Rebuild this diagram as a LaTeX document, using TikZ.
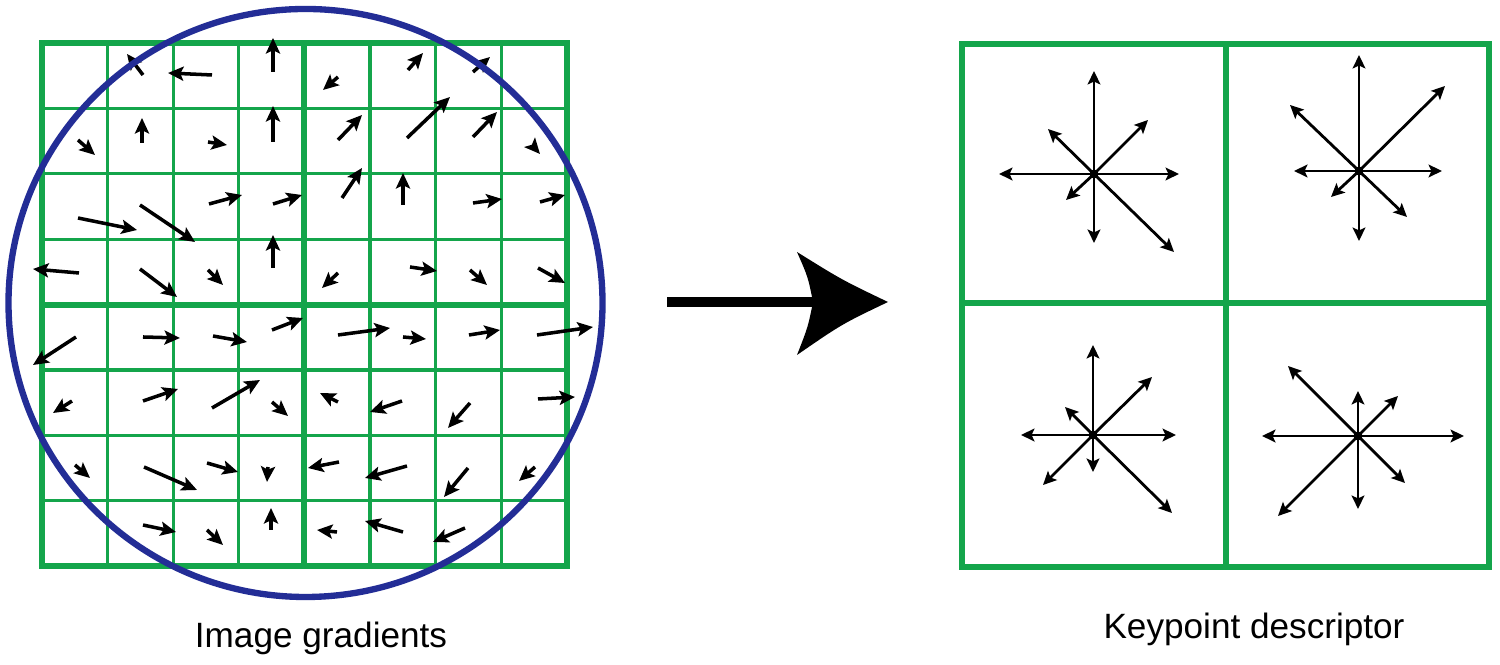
\documentclass[tikz,border=0pt]{standalone}
\usepackage{fontspec}
\setmainfont{Liberation Sans}
\usetikzlibrary{arrows.meta}
\definecolor{gridgreen}{RGB}{20,165,75}
\definecolor{circblue}{RGB}{35,45,150}
\tikzset{
  thingrid/.style={draw=gridgreen, line width=0.9pt},
  thickgrid/.style={draw=gridgreen, line width=1.7pt},
  gradarrow/.style={draw=black, line width=1pt, -{Stealth[length=4.4pt,width=4pt,inset=0.9pt]}},
  stararrow/.style={draw=black, line width=0.8pt, -{Stealth[length=3.8pt,width=3.6pt,inset=0.8pt]}},
  caption/.style={font=\fontsize{10pt}{12pt}\selectfont, anchor=base, inner sep=0pt}
}
\begin{document}
\begin{tikzpicture}[x=0.01cm, y=-0.01cm]
\useasboundingbox (0,0) rectangle (1500,665);
\fill[white] (0,0) rectangle (1500,665);

% ---- left 8x8 grid ----
\foreach \i in {1,2,3,5,6,7} {
  \draw[thingrid] ({42+65.6*\i},43) -- ({42+65.6*\i},566);
  \draw[thingrid] (42,{43+65.4*\i}) -- (567,{43+65.4*\i});
}
\draw[thickgrid] (304.4,43) -- (304.4,566);
\draw[thickgrid] (42,304.6) -- (567,304.6);
\draw[thickgrid] (42,43) rectangle (567,566);

% ---- gradient arrows ----
\foreach \ax/\ay/\bx/\by in {
 143/75/127/54, 212/75/168/73, 273/72/273/38,
 78/140/95/155, 142/143/142/118, 208/142/227/145, 273/142/273/106,
 78/218/137/230, 140/205/195/242, 209/204/242/195, 273/204/302/195,
 79/273/33/269, 140/269/177/297, 208/270/223/285, 273/268/273/235,
 338/77/323/90, 408/70/423/53, 473/72/490/57,
 338/140/362/115, 407/138/450/97, 473/137/497/112, 532/145/540/154,
 342/198/362/168, 403/205/403/173, 473/203/502/199, 540/202/565/195,
 338/273/322/288, 410/267/437/271, 470/270/487/285, 538/268/565/283,
 76/337/33/365, 143/337/180/338, 213/336/247/342, 272/330/303/318,
 72/401/53/413, 143/401/178/389, 212/408/260/380, 272/402/288/416,
 75/465/90/478, 144/467/197/490, 207/463/238/472, 268/467/267/482,
 143/525/176/532, 207/530/223/545, 271/530/271/508,
 338/335/390/328, 403/337/426/339, 469/335/500/330, 537/335/593/327,
 338/402/320/393, 402/401/370/412, 470/403/448/428, 538/399/575/397,
 339/462/308/468, 407/466/365/478, 468/468/444/497, 535/467/519/481,
 337/532/317/530, 403/532/365/521, 465/528/433/542}
{
  \draw[gradarrow] (\ax,\ay) -- (\bx,\by);
}

% ---- blue circle ----
\draw[circblue, line width=1.8pt] (305.5,303) ellipse [x radius=297, y radius=294];

% ---- big arrow ----
\fill[black] (667,297) rectangle (816,307);
\fill[black] (888,302) .. controls (842,280) .. (797,252)
  .. controls (808,277) .. (813,302)
  .. controls (808,327) .. (797,355)
  .. controls (842,324) .. (888,302) -- cycle;

% ---- right 2x2 grid ----
\draw[thickgrid] (1226,44) -- (1226,567);
\draw[thickgrid] (962,303.5) -- (1489,303.5);
\draw[thickgrid] (962,44) rectangle (1489,567);

% ---- stars ----
\coordinate (c1) at (1094,174);
\coordinate (c2) at (1359,171);
\coordinate (c3) at (1093,435);
\coordinate (c4) at (1358,436);

\foreach \c/\u/\nex/\ney/\r/\sex/\sey/\d/\swx/\swy/\l/\nwx/\nwy in {
  c1/103/54/54/85/80/78/69/28/26/95/46/45,
  c2/116/86/85/83/48/46/70/28/26/65/69/66,
  c3/90/59/58/83/79/78/37/50/50/72/28/28,
  c4/45/40/40/106/47/47/73/80/80/96/70/70}
{
  \draw[stararrow] (\c) -- ++(0,-\u);
  \draw[stararrow] (\c) -- ++(\nex,-\ney);
  \draw[stararrow] (\c) -- ++(\r,0);
  \draw[stararrow] (\c) -- ++(\sex,\sey);
  \draw[stararrow] (\c) -- ++(0,\d);
  \draw[stararrow] (\c) -- ++(-\swx,\swy);
  \draw[stararrow] (\c) -- ++(-\l,0);
  \draw[stararrow] (\c) -- ++(-\nwx,-\nwy);
  \fill[black] (\c) circle (4.5);
}

% ---- captions ----
\node[caption] (capleft) at (321,648) {Image gradients};
\node[caption] (capright) at (1254,639) {Keypoint descriptor};
\end{tikzpicture}
\end{document}
